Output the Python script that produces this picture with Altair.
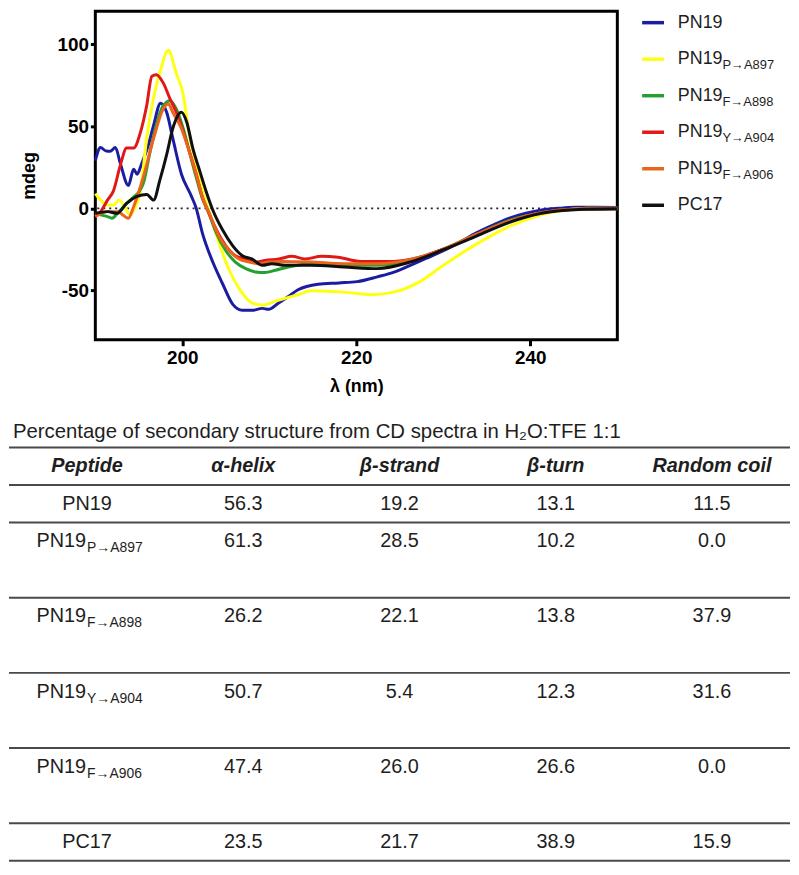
import altair as alt
import pandas as pd

# ---------------- CD spectra (wavelength nm, signal mdeg) ----------------
pn19_nm = [190.0, 190.6, 191.2, 191.7, 192.3, 192.9, 193.8, 194.4, 194.8, 195.3, 196.1, 196.7,
           197.5, 198.2, 198.9, 199.9, 201.0, 201.6, 202.3, 203.5, 204.6, 205.8, 206.9, 208.0,
           209.2, 209.9, 211.1, 212.2, 213.3, 215.6, 218.0, 220.1, 222.4, 224.5, 226.2, 228.0,
           230.0, 232.0, 233.8, 235.7, 237.6, 239.5, 241.3, 243.2, 245.1, 247.4, 250.0]
pn19_mdeg = [29, 37, 35, 34.7, 37, 26.8, 13.9, 23.8, 20.8, 26.8, 38.7, 50.6,
             64, 58.5, 42.7, 20.8, 7.9, 0, -14.9, -32.7, -45.6, -58.5, -62.1, -62.1,
             -60.9, -61.5, -57.5, -53.6, -49.6, -46.2, -45.4, -44.6, -41.7, -38.5, -34.7, -30.5,
             -25.8, -20.2, -14.9, -10.2, -6, -3, -1, 0, 0.6, 0.6, 0.5]

p897_nm = [190.0, 190.6, 191.4, 192.1, 192.7, 193.4, 194.0, 194.6, 195.2, 195.9, 196.7, 197.4,
           198.4, 199.3, 200.1, 200.8, 201.6, 202.3, 203.1, 204.2, 205.4, 206.5, 208.0, 209.2,
           210.7, 212.2, 213.3, 214.8, 216.7, 218.6, 221.6, 224.3, 227.3, 230.0, 233.8, 237.6,
           240.6, 243.6, 246.6, 250.0]
p897_mdeg = [8.9, 5, 2, 2, 5, 1, -4, 1, 10.9, 42.7, 67.5, 82.3,
             96.2, 82.3, 69.4, 44.6, 26.8, 10.9, -2, -20.8, -37.7, -48.6, -57.5, -58.9,
             -56.5, -54.2, -52.6, -50.2, -50.5, -51, -52.6, -51, -44.6, -34.7, -21.8, -10.9,
             -5, -1.4, 0, 0]

f898_nm = [190.0, 190.6, 191.4, 191.9, 192.7, 193.6, 194.4, 195.0, 195.5, 196.3, 197.0, 197.8,
           198.6, 199.3, 200.1, 200.8, 201.6, 202.3, 202.9, 203.9, 205.0, 206.1, 207.3, 208.4,
           209.5, 210.7, 212.2, 214.8, 218.6, 222.4, 226.2, 230.0, 233.8, 237.6, 241.3, 245.1,
           250.0]
f898_mdeg = [-3, -4, -5, -6, -2, 3, 6.9, 9.9, 14.9, 34.7, 50.6, 62.5,
             65.5, 60.5, 48.6, 34.7, 18.8, 6, -1, -14.9, -25.8, -32.7, -36.7, -38.7,
             -39.1, -37.7, -35.7, -33.7, -34.7, -34.7, -31.7, -24.8, -15.9, -7.3, -2.6, -0.6,
             -0.3]

y904_nm = [190.0, 190.6, 191.4, 192.1, 192.9, 193.6, 194.4, 195.2, 195.9, 196.5, 197.0, 197.8,
           198.6, 199.3, 200.1, 200.8, 201.6, 202.3, 202.9, 203.9, 205.0, 206.1, 207.3, 208.4,
           209.5, 211.1, 212.6, 214.1, 216.0, 217.9, 220.5, 224.3, 227.3, 230.0, 231.9, 233.8,
           237.6, 241.3, 245.1, 250.0]
y904_mdeg = [-5, -2, 5, 10.9, 26.8, 36.7, 36.7, 46.6, 62.5, 80.4, 81.3, 76.4,
             66.5, 58.5, 46.6, 34.7, 20.8, 6.9, -1, -12.9, -22.8, -28.8, -30.8, -32.7,
             -31.7, -30.8, -29.2, -30.8, -29.2, -29.8, -32.3, -32.3, -29.8, -24.8, -20.8, -15.9,
             -7.9, -2.6, -0.6, -0.3]

f906_nm = [190.0, 191.4, 192.5, 193.8, 194.4, 195.5, 196.7, 197.8, 198.4, 198.9, 199.9, 200.8,
           201.6, 202.3, 203.1, 204.2, 205.4, 206.5, 207.7, 208.8, 209.9, 211.4, 214.8, 218.6,
           222.4, 226.2, 230.0, 233.8, 237.6, 241.3, 245.1, 250.0]
f906_mdeg = [-5, -2, -2, -6, 1, 18.8, 42.7, 60.5, 63.5, 58.5, 48.6, 34.7,
             20.8, 6.9, -3, -16.9, -25.8, -30.8, -32.7, -33.7, -32.7, -32.3, -32.7, -33.7,
             -33.7, -31.2, -24.8, -15.9, -7.6, -2.6, -0.6, -0.3]

pc17_nm = [190.0, 191.4, 192.5, 193.6, 194.8, 195.9, 196.7, 197.4, 198.2, 198.9, 199.9, 200.5,
           201.2, 202.0, 202.7, 203.5, 204.6, 205.8, 206.9, 208.0, 209.2, 210.3, 211.8, 214.8,
           218.6, 222.4, 226.2, 230.0, 233.8, 237.6, 241.3, 245.1, 250.0]
pc17_mdeg = [-3, -2, -3, 3, 7.3, 8.5, 5, 16.9, 32.7, 48.6, 58.5, 52.6,
             36.7, 22.8, 10.9, -1, -12.9, -22.8, -28.8, -30.8, -34.7, -33.7, -34.7, -34.7,
             -35.7, -36.7, -32.7, -25.2, -16.9, -8.5, -3, -0.8, -0.3]

series_names = ["PN19", "PN19 P→A897", "PN19 F→A898", "PN19 Y→A904", "PN19 F→A906", "PC17"]
series_main = ["PN19", "PN19", "PN19", "PN19", "PN19", "PC17"]
series_sub = ["", "P→A897", "F→A898", "Y→A904", "F→A906", ""]
series_colors = ["#1c1ca0", "#ffff14", "#22a030", "#e01818", "#ea641c", "#101010"]

x_ticks = [200, 220, 240]
y_ticks = [-50, 0, 50, 100]

# ---------------- Table ----------------
table_title = "Percentage of secondary structure from CD spectra in H₂O:TFE  1:1"
headers = ["Peptide", "α-helix", "β-strand", "β-turn", "Random coil"]
pep_main = ["PN19", "PN19", "PN19", "PN19", "PN19", "PC17"]
pep_sub = ["", "P→A897", "F→A898", "Y→A904", "F→A906", ""]
alpha_helix = [56.3, 61.3, 26.2, 50.7, 47.4, 23.5]
beta_strand = [19.2, 28.5, 22.1, 5.4, 26.0, 21.7]
beta_turn = [13.1, 10.2, 13.8, 12.3, 26.6, 38.9]
random_coil = [11.5, 0.0, 37.9, 31.6, 0.0, 15.9]

# layout of the table: how many slots each row (header first) occupies
row_span = [1, 1, 2, 2, 2, 2, 1]

FONT = "Liberation Sans"
TXT = "#1e1e1e"

# ---------------- build frames ----------------
rows = []
for name, nms, vals in zip(series_names,
                           [pn19_nm, p897_nm, f898_nm, y904_nm, f906_nm, pc17_nm],
                           [pn19_mdeg, p897_mdeg, f898_mdeg, y904_mdeg, f906_mdeg, pc17_mdeg]):
    for a, b in zip(nms, vals):
        rows.append({"series": name, "nm": a, "mdeg": b})
spectra = pd.DataFrame(rows)

legend_df = pd.DataFrame({"series": series_names, "main": series_main, "sub": series_sub})

starts = [0]
for s in row_span:
    starts.append(starts[-1] + s)
n_slots = starts[-1]

header_df = pd.DataFrame({"col": [k + 0.5 for k in range(5)],
                          "slot": [starts[0] + 0.5] * 5, "label": headers})
val_rows = []
for i in range(len(pep_main)):
    slot = starts[i + 1] + 0.5
    for k, arr in enumerate([alpha_helix, beta_strand, beta_turn, random_coil], start=1):
        val_rows.append({"col": k + 0.5, "slot": slot, "value": arr[i]})
values_df = pd.DataFrame(val_rows)
label_df = pd.DataFrame({"col": [0.5] * len(pep_main),
                         "slot": [starts[i + 1] + 0.5 for i in range(len(pep_main))],
                         "main": pep_main, "sub": pep_sub,
                         "has_sub": [1 if s else 0 for s in pep_sub]})
lines_df = pd.DataFrame({"slot": starts, "x0": [0] * len(starts), "x1": [5] * len(starts)})
title_df = pd.DataFrame({"t": [table_title]})

# ---------------- spectra plot ----------------
xscale = alt.Scale(domain=[190, 250], nice=False, zero=False)
yscale = alt.Scale(domain=[-80, 120], nice=False, zero=False)
cscale = alt.Scale(domain=series_names, range=series_colors)

zero_line = alt.Chart(title_df).mark_rule(strokeDash=[2, 4], strokeWidth=1.6, color="#222").encode(
    y=alt.datum(0)
)

lines = alt.Chart(spectra).mark_line(strokeWidth=3, interpolate="monotone").encode(
    x=alt.X("nm:Q", scale=xscale,
            axis=alt.Axis(values=x_ticks, title="λ (nm)", tickSize=6, labelPadding=3,
                          titlePadding=10, labelExpr="'' + datum.value")),
    y=alt.Y("mdeg:Q", scale=yscale,
            axis=alt.Axis(values=y_ticks, title="mdeg", tickSize=5, labelPadding=2,
                          titlePadding=19, labelExpr="'' + datum.value")),
    color=alt.Color("series:N", scale=cscale, legend=None),
    order=alt.Order("nm:Q"),
)

plot = alt.layer(zero_line, lines)

# ---------------- custom legend (with subscripts) ----------------
leg_y = alt.Y("series:N", axis=None,
              scale=alt.Scale(type="point", domain=series_names, range=[11.5, 195.5], padding=0))
swatch = alt.Chart(legend_df).mark_rule(strokeWidth=3.5).encode(
    x=alt.value(551), x2=alt.value(573), y=leg_y,
    color=alt.Color("series:N", scale=cscale, legend=None),
)
leg_main = alt.Chart(legend_df).mark_text(
    align="left", baseline="middle", fontSize=18, font=FONT, color=TXT
).encode(x=alt.value(587), y=leg_y, text="main:N")
leg_sub = alt.Chart(legend_df).mark_text(
    align="left", baseline="middle", fontSize=13, font=FONT, color=TXT, dx=45, dy=6
).encode(x=alt.value(587), y=leg_y, text="sub:N")
legend = alt.layer(swatch, leg_main, leg_sub)

# ---------------- table ----------------
tx = alt.Scale(domain=[0, 5], range=[-87, 700], nice=False, zero=False)
ty = alt.Scale(domain=[0, n_slots], range=[439.5, 856], nice=False, zero=False)
TX = alt.X("col:Q", scale=tx, axis=None)
TY = alt.Y("slot:Q", scale=ty, axis=None)

t_lines = alt.Chart(lines_df).mark_rule(strokeWidth=2, color="#4a4a4a").encode(
    x=alt.X("x0:Q", scale=tx, axis=None), x2="x1:Q", y=TY
)
t_title = alt.Chart(title_df).mark_text(
    align="left", baseline="middle", fontSize=20.5, font=FONT, color=TXT
).encode(x=alt.value(-83), y=alt.value(424.5), text="t:N")
t_head = alt.Chart(header_df).mark_text(
    baseline="middle", fontSize=20, font=FONT, fontStyle="italic", fontWeight="bold", color=TXT
).encode(x=TX, y=TY, text="label:N")
t_vals = alt.Chart(values_df).mark_text(
    baseline="middle", fontSize=20, font=FONT, color=TXT
).encode(x=TX, y=TY, text=alt.Text("value:Q", format=".1f"))
t_plain = alt.Chart(label_df).transform_filter("datum.has_sub == 0").mark_text(
    baseline="middle", fontSize=20, font=FONT, color=TXT
).encode(x=TX, y=TY, text="main:N")
t_main = alt.Chart(label_df).transform_filter("datum.has_sub == 1").mark_text(
    align="right", baseline="middle", fontSize=20, font=FONT, color=TXT, dx=-1
).encode(x=TX, y=TY, text="main:N")
t_sub = alt.Chart(label_df).transform_filter("datum.has_sub == 1").mark_text(
    align="left", baseline="middle", fontSize=14, font=FONT, color=TXT, dy=7
).encode(x=TX, y=TY, text="sub:N")
table = alt.layer(t_lines, t_title, t_head, t_vals, t_plain, t_main, t_sub)

chart = alt.layer(plot, legend, table).resolve_scale(
    x="independent", y="independent"
).properties(
    width=526, height=331, padding=0
).configure_view(
    stroke="black", strokeWidth=3
).configure_axis(
    domain=False, grid=False, tickColor="black", tickWidth=3,
    labelFont=FONT, labelFontWeight="bold", labelFontSize=19, labelColor="black",
    titleFont=FONT, titleFontWeight="bold", titleFontSize=18, titleColor="black",
)

chart.save("out.html", embed_options={"renderer": "svg", "actions": False})
